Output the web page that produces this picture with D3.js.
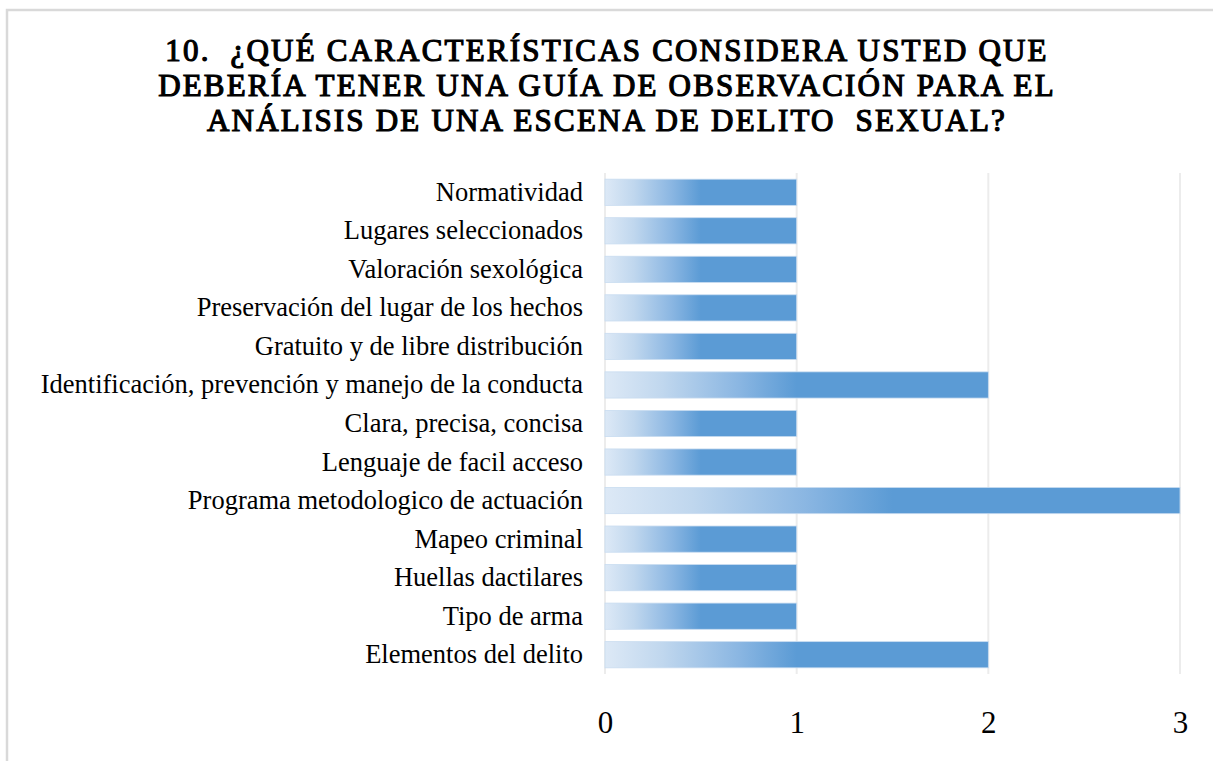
<!DOCTYPE html>
<html>
<head>
<meta charset="utf-8">
<script src="https://cdn.jsdelivr.net/npm/d3@7"></script>
<style>
  html, body { margin: 0; padding: 0; background: #fff; }
  svg { display: block; }
</style>
</head>
<body>
<div id="chart"></div>
<script>
// categories, top to bottom as shown
const categories = [
    "Normatividad",
    "Lugares seleccionados",
    "Valoración sexológica",
    "Preservación del lugar de los hechos",
    "Gratuito y de libre distribución",
    "Identificación, prevención y manejo de la conducta",
    "Clara, precisa, concisa",
    "Lenguaje de facil acceso",
    "Programa metodologico de actuación",
    "Mapeo criminal",
    "Huellas dactilares",
    "Tipo de arma",
    "Elementos del delito"
];
const values = [1, 1, 1, 1, 1, 2, 1, 1, 3, 1, 1, 1, 2];
const tickValues = [0, 1, 2, 3];
const titleLines = [
    "10.  ¿QUÉ CARACTERÍSTICAS CONSIDERA USTED QUE",
    "DEBERÍA TENER UNA GUÍA DE OBSERVACIÓN PARA EL",
    "ANÁLISIS DE UNA ESCENA DE DELITO  SEXUAL?"
];

const width = 1213, height = 761;
const serif = "'Liberation Serif', 'Times New Roman', serif";

const svg = d3.select("#chart").append("svg")
    .attr("width", width)
    .attr("height", height);

// chart frame
svg.append("rect")
    .attr("x", 7).attr("y", 10)
    .attr("width", 1215).attr("height", 760)
    .attr("fill", "#fff")
    .attr("stroke", "#d9d9d9")
    .attr("stroke-width", 2.5);

// title (bold faked with a thin stroke so it stays in the serif face)
svg.append("text")
    .attr("text-anchor", "middle")
    .style("font-family", serif)
    .style("font-weight", "normal")
    .style("font-size", "31px")
    .attr("fill", "#000")
    .attr("stroke", "#000")
    .attr("stroke-width", 1.2)
    .attr("letter-spacing", "2.2px")
    .selectAll("tspan")
    .data(titleLines)
    .join("tspan")
    .attr("x", 607)
    .attr("y", (d, i) => 61 + i * 35)
    .style("white-space", "pre")
    .text(d => d);

const x = d3.scaleLinear().domain([0, 3]).range([605, 1180]);
const y = d3.scaleBand().domain(categories).range([173, 674]).paddingInner(0.32).paddingOuter(0.16);

// gradient per bar (objectBoundingBox so it scales with the bar)
const defs = svg.append("defs");
const grad = defs.append("linearGradient")
    .attr("id", "barGrad")
    .attr("x1", "0").attr("x2", "1").attr("y1", "0").attr("y2", "0");
grad.append("stop").attr("offset", "0").attr("stop-color", "#dde9f6");
grad.append("stop").attr("offset", "0.15").attr("stop-color", "#c0d7ee");
grad.append("stop").attr("offset", "0.35").attr("stop-color", "#8ab6e2");
grad.append("stop").attr("offset", "0.5").attr("stop-color", "#5b9bd5");
grad.append("stop").attr("offset", "1").attr("stop-color", "#5b9bd5");

// gridlines
svg.append("g")
    .selectAll("line")
    .data(tickValues)
    .join("line")
    .attr("x1", d => x(d)).attr("x2", d => x(d))
    .attr("y1", 173).attr("y2", 674)
    .attr("stroke", "#ececec")
    .attr("stroke-width", 2);

// bars
svg.append("g")
    .selectAll("rect")
    .data(values)
    .join("rect")
    .attr("x", x(0))
    .attr("y", (d, i) => y(categories[i]))
    .attr("width", d => x(d) - x(0))
    .attr("height", y.bandwidth())
    .attr("fill", "url(#barGrad)")
    .attr("stroke", "#c9dcf0")
    .attr("stroke-width", 0.8);

// category labels
const yAxis = svg.append("g")
    .attr("transform", `translate(${x(0)},0)`)
    .call(d3.axisLeft(y).tickSize(0).tickPadding(22));
yAxis.select(".domain").remove();
yAxis.selectAll("text")
    .style("font-family", serif)
    .style("font-size", "26.5px")
    .attr("fill", "#000");

// value axis
const xAxis = svg.append("g")
    .attr("transform", "translate(0,703)")
    .call(d3.axisBottom(x).tickValues(tickValues).tickFormat(d3.format("d")).tickSize(0).tickPadding(8));
xAxis.select(".domain").remove();
xAxis.selectAll("text")
    .style("font-family", serif)
    .style("font-size", "31px")
    .attr("fill", "#000");
</script>
</body>
</html>
